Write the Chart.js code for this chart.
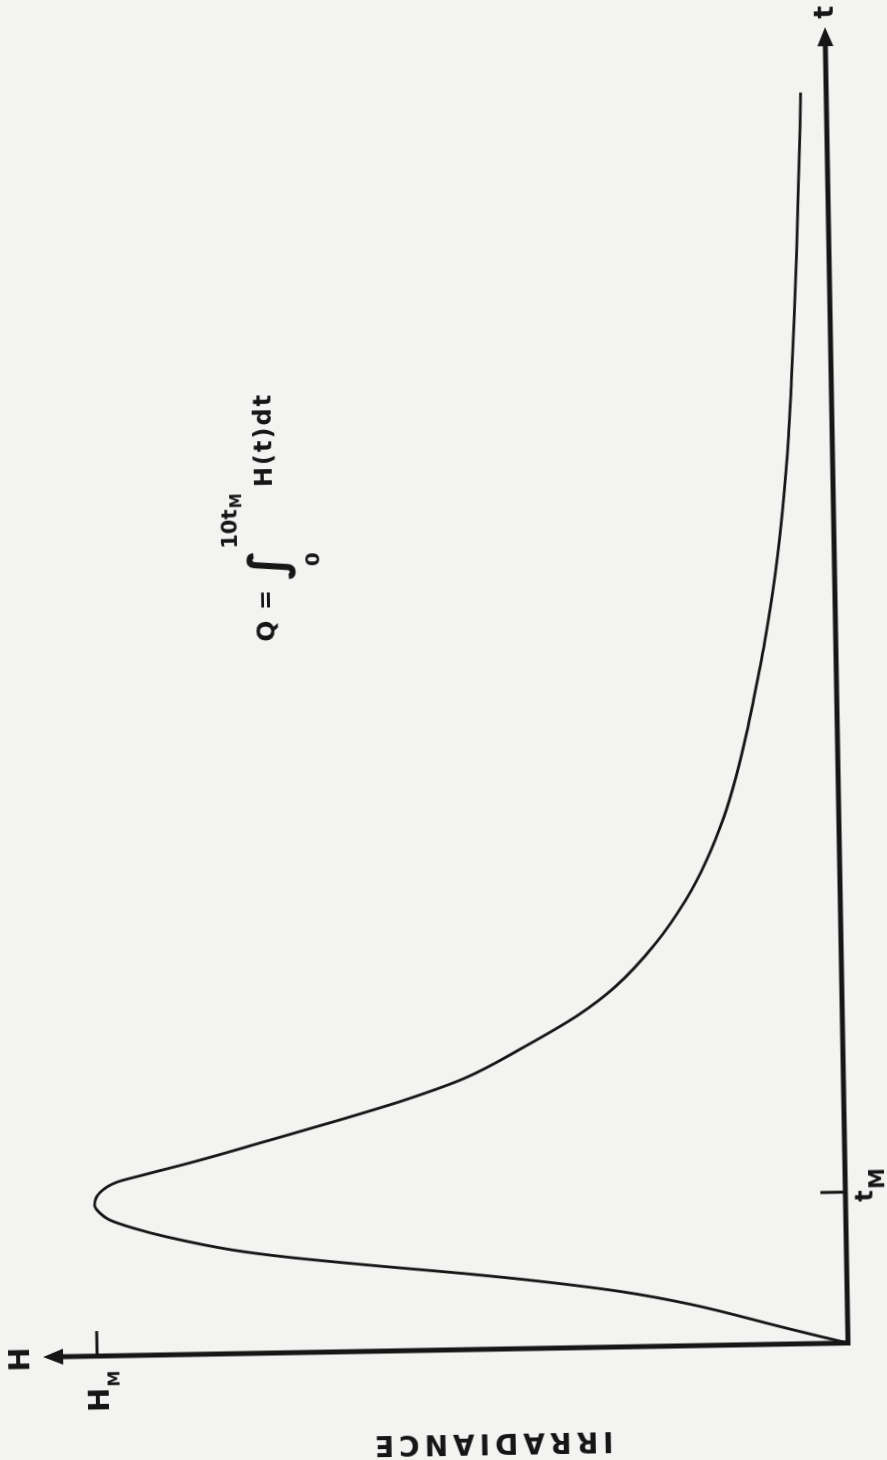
<!DOCTYPE html>
<html lang="en">
  <head>
    <meta charset="UTF-8" />
    <title>Irradiance pulse</title>
    <script src="https://cdn.jsdelivr.net/npm/chart.js"></script>
    <style>
      html,
      body {
        margin: 0;
        padding: 0;
        background: #f3f3f2;
        overflow: hidden;
      }
      body {
        width: 887px;
        height: 1460px;
        position: relative;
      }
      /* the drawing sits sideways on the page, slightly skewed like the scan */
      .sheet {
        position: absolute;
        left: 738px;
        top: 483px;
        width: 1460px;
        height: 900px;
        transform-origin: 110px 860px;
        transform: rotate(-91deg);
      }
    </style>
  </head>
  <body>
    <div class="sheet"><canvas id="chart" width="1460" height="900"></canvas></div>

    <script>
      // time in units of t_M, irradiance in units of H_M
      const times = [
        0, 0.043, 0.114, 0.276, 0.366, 0.442, 0.506, 0.56, 0.634, 0.687, 0.781, 0.844, 0.9,
        0.968, 1.0, 1.086, 1.15, 1.194, 1.287, 1.411, 1.536, 1.66, 1.797, 2.0, 2.203, 2.386,
        2.669, 2.952, 3.215, 3.499, 3.763, 4.049, 4.268, 4.644, 5.101, 5.556, 6.013, 6.376,
        6.773, 7.227, 7.682, 8.077, 8.29,
      ];
      const irradiance = [
        0, 0.034, 0.088, 0.21, 0.3, 0.405, 0.512, 0.615, 0.745, 0.817, 0.904, 0.949, 0.98,
        0.997, 1.0, 0.992, 0.97, 0.935, 0.858, 0.765, 0.672, 0.585, 0.505, 0.424, 0.352, 0.302,
        0.247, 0.206, 0.177, 0.153, 0.136, 0.121, 0.111, 0.095, 0.079, 0.067, 0.058, 0.053,
        0.048, 0.043, 0.039, 0.0355, 0.034,
      ];
      const T_M = 1;
      const H_M = 1;
      const T_AXIS_END = 8.72;
      const H_AXIS_END = 1.072;

      const ink = '#161616';
      const face = '"DejaVu Sans", "Liberation Sans", sans-serif';

      function text(ctx, str, x, y, size, align = 'left', base = 'alphabetic') {
        ctx.font = `bold ${size}px ${face}`;
        ctx.textAlign = align;
        ctx.textBaseline = base;
        ctx.fillText(str, x, y);
        return ctx.measureText(str).width;
      }

      const sketch = {
        id: 'sketch',
        afterDatasetsDraw(chart) {
          const { ctx } = chart;
          const { x, y } = chart.scales;
          const x0 = x.getPixelForValue(0);
          const y0 = y.getPixelForValue(0);
          const xEnd = x.getPixelForValue(T_AXIS_END);
          const yEnd = y.getPixelForValue(H_AXIS_END);
          const tm = x.getPixelForValue(T_M);
          const hm = y.getPixelForValue(H_M);

          ctx.save();
          ctx.strokeStyle = ink;
          ctx.fillStyle = ink;

          // axes
          ctx.lineWidth = 5;
          ctx.lineJoin = 'miter';
          ctx.beginPath();
          ctx.moveTo(x0, yEnd + 16);
          ctx.lineTo(x0, y0);
          ctx.lineTo(xEnd - 16, y0);
          ctx.stroke();

          // arrow heads
          ctx.beginPath();
          ctx.moveTo(xEnd, y0);
          ctx.lineTo(xEnd - 19, y0 - 8);
          ctx.lineTo(xEnd - 19, y0 + 8);
          ctx.closePath();
          ctx.fill();
          ctx.beginPath();
          ctx.moveTo(x0, yEnd);
          ctx.lineTo(x0 - 8, yEnd + 20);
          ctx.lineTo(x0 + 8, yEnd + 20);
          ctx.closePath();
          ctx.fill();

          // t_M and H_M marks
          ctx.lineWidth = 3;
          ctx.beginPath();
          ctx.moveTo(tm, y0);
          ctx.lineTo(tm, y0 - 25);
          ctx.moveTo(x0, hm);
          ctx.lineTo(x0 + 25, hm);
          ctx.stroke();

          // axis names
          text(ctx, 't', xEnd + 15, y0 + 1, 27, 'center', 'middle');
          text(ctx, 'H', x0 - 2, yEnd - 22, 29, 'center', 'middle');

          // tick labels
          let w = text(ctx, 't', tm - 10, y0 + 27, 24);
          text(ctx, 'M', tm - 9 + w, y0 + 39, 21);
          w = text(ctx, 'H', x0 - 56, hm + 11, 29);
          text(ctx, 'M', x0 - 55 + w, hm + 22, 16);

          // vertical axis title
          ctx.save();
          ctx.translate(x0 - 92, y0 - 358);
          ctx.rotate(-Math.PI / 2);
          ctx.letterSpacing = '5px';
          text(ctx, 'IRRADIANCE', 0, 0, 28, 'center', 'middle');
          ctx.restore();

          // formula
          text(ctx, 'Q', x0 + 722, y0 - 568, 25, 'center', 'middle');
          text(ctx, '=', x0 + 753, y0 - 567, 24, 'center', 'middle');
          text(ctx, '\u222B', x0 + 788, y0 - 563, 50, 'center', 'middle');
          text(ctx, '0', x0 + 793, y0 - 520, 20, 'center', 'middle');
          w = text(ctx, '10t', x0 + 805, y0 - 597, 21);
          text(ctx, 'M', x0 + 806 + w, y0 - 592, 15);
          ctx.letterSpacing = '2px';
          text(ctx, 'H(t)dt', x0 + 866, y0 - 567, 24, 'left', 'middle');
          ctx.restore();
        },
      };

      new Chart(document.getElementById('chart'), {
        type: 'scatter',
        data: {
          datasets: [
            {
              data: times.map((t, i) => ({ x: t, y: irradiance[i] })),
              showLine: true,
              borderColor: ink,
              borderWidth: 2.8,
              pointRadius: 0,
              cubicInterpolationMode: 'monotone',
              fill: false,
            },
          ],
        },
        options: {
          responsive: false,
          animation: false,
          devicePixelRatio: 1,
          layout: { padding: { left: 110, right: 34, top: 55, bottom: 40 } },
          scales: {
            x: { type: 'linear', display: false, min: 0, max: T_AXIS_END },
            y: { type: 'linear', display: false, min: 0, max: H_AXIS_END },
          },
          plugins: { legend: { display: false }, tooltip: { enabled: false } },
        },
        plugins: [sketch],
      });
    </script>
  </body>
</html>
